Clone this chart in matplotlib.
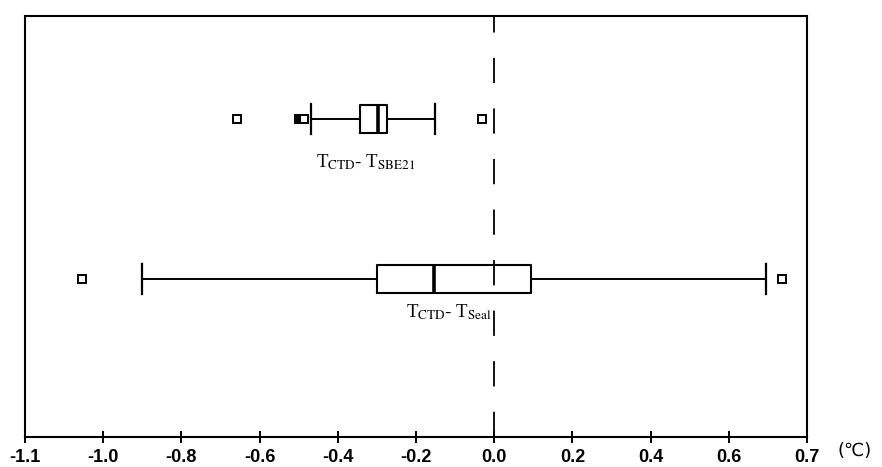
import matplotlib
matplotlib.use('Agg')
import matplotlib.pyplot as plt

plt.rcParams['mathtext.fontset'] = 'stix'

# box statistics (deg C)
names = ['SBE21', 'Seal']
labels = [r'T$_{\mathrm{CTD}}$- T$_{\mathrm{SBE21}}$', r'T$_{\mathrm{CTD}}$- T$_{\mathrm{Seal}}$']
q1 = [-0.344, -0.301]
med = [-0.296, -0.153]
q3 = [-0.273, 0.094]
whislo = [-0.469, -0.901]
whishi = [-0.151, 0.696]
fliers = [[-0.658, -0.498, -0.494, -0.490, -0.486, -0.031], [-1.054, 0.735]]
ypos = [0.755, 0.375]
label_xy = [(-0.329, 0.653), (-0.115, 0.297)]

tick_pos = [-1.2, -1.0, -0.8, -0.6, -0.4, -0.2, 0.0, 0.2, 0.4, 0.6, 0.8]
tick_lab = ['-1.1', '-1.0', '-0.8', '-0.6', '-0.4', '-0.2', '0.0', '0.2', '0.4', '0.6', '0.7']

fig = plt.figure(figsize=(8.82, 4.67), dpi=100)
ax = fig.add_axes([0.0283, 0.0642, 0.8867, 0.9015])

stats = []
for i in range(len(names)):
    stats.append({'q1': q1[i], 'med': med[i], 'q3': q3[i], 'whislo': whislo[i],
                  'whishi': whishi[i], 'fliers': fliers[i], 'label': names[i]})

ax.bxp(stats, positions=ypos, widths=0.066, capwidths=0.07, orientation='horizontal',
       boxprops=dict(color='black', linewidth=1.5),
       medianprops=dict(color='black', linewidth=2.6),
       whiskerprops=dict(color='black', linewidth=1.4),
       capprops=dict(color='black', linewidth=1.6),
       flierprops=dict(marker='s', markersize=5.5, markerfacecolor='white',
                       markeredgecolor='black', markeredgewidth=1.4))

ax.axvline(0.0, color='black', linewidth=1.3, dashes=(14, 14), zorder=0)

for lab, (tx, ty) in zip(labels, label_xy):
    ax.text(tx, ty, lab, ha='center', va='center', fontsize=13.5, family='Liberation Serif')

ax.set_xlim(-1.2, 0.8)
ax.set_ylim(0, 1)
ax.set_yticks([])
ax.set_xticks(tick_pos)
ax.set_xticklabels(tick_lab, fontsize=13, fontweight='bold', family='Liberation Sans')
ax.tick_params(axis='x', direction='inout', length=9, width=1.4, pad=4)
for s in ax.spines.values():
    s.set_linewidth(1.5)

fig.text(0.988, 0.015, '(\u2103)', ha='right', va='bottom', fontsize=13,
         family='DejaVu Sans')

fig.savefig('out.png', dpi=100)
